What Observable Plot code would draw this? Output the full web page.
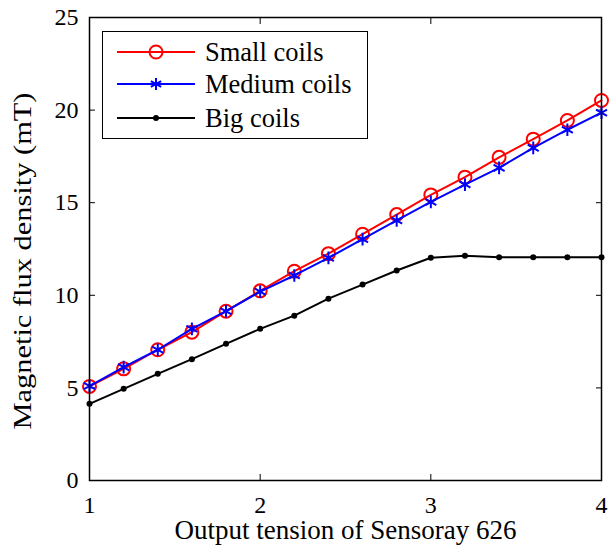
<!DOCTYPE html>
<html>
<head>
<meta charset="utf-8">
<script src="https://cdn.jsdelivr.net/npm/d3@7"></script>
<script src="https://cdn.jsdelivr.net/npm/@observablehq/plot@0.6"></script>
<style>
  html, body { margin: 0; padding: 0; background: #fff; }
  #wrap { position: relative; width: 609px; height: 549px; font-family: "Liberation Serif", "Times New Roman", serif; }
  #legend { position: absolute; left: 102px; top: 31px; width: 264px; height: 106px; border: 1.5px solid #000; background: #fff; }
  #legend svg { position: absolute; left: 0; top: 0; }
  #ylab { position: absolute; left: 0; top: 0; pointer-events: none; }
</style>
</head>
<body>
<div id="wrap"></div>
<script>
const xs = [1, 1.2, 1.4, 1.6, 1.8, 2.0, 2.2, 2.4, 2.6, 2.8, 3.0, 3.2, 3.4, 3.6, 3.8, 4.0];
const small = [5.08, 6.03, 7.06, 8.01, 9.14, 10.24, 11.3, 12.25, 13.3, 14.36, 15.42, 16.38, 17.45, 18.43, 19.44, 20.52];
const medium = [5.1, 6.12, 7.06, 8.19, 9.14, 10.2, 11.07, 12.02, 13.03, 14.04, 15.04, 15.98, 16.88, 17.96, 18.94, 19.86];
const big = [4.14, 4.95, 5.76, 6.55, 7.38, 8.19, 8.9, 9.82, 10.58, 11.34, 12.03, 12.13, 12.05, 12.05, 12.05, 12.05];
const seriesNames = ["Small coils", "Medium coils", "Big coils"];
const seriesColors = ["#ff0000", "#0000ff", "#000000"];
const xTicks = [1, 2, 3, 4];
const yTicks = [0, 5, 10, 15, 20, 25];
const xLabel = "Output tension of Sensoray 626";
const yLabel = "Magnetic flux density (mT)";

const rows = (ys) => xs.map((x, i) => ({x, y: ys[i]}));
const S = rows(small), M = rows(medium), B = rows(big);

const font = "Liberation Serif, Times New Roman, serif";

const chart = Plot.plot({
  width: 609,
  height: 549,
  marginLeft: 89,
  marginRight: 8,
  marginTop: 17,
  marginBottom: 69,
  style: {fontFamily: font, fontSize: "24px", color: "#000", background: "#fff"},
  x: {domain: [1, 4], label: null},
  y: {domain: [0, 25], label: null},
  marks: [
    Plot.axisX({ticks: xTicks, tickSize: 0, tickPadding: 15, tickFormat: d3.format("d"), fontSize: 24, label: null}),
    Plot.axisX({ticks: xTicks, tickSize: -6, text: null, label: null}),
    Plot.axisX({anchor: "top", ticks: xTicks, tickSize: -6, text: null, label: null}),
    Plot.axisY({ticks: yTicks, tickSize: 0, tickPadding: 11, fontSize: 24, label: null}),
    Plot.axisY({ticks: yTicks, tickSize: -6, text: null, label: null}),
    Plot.axisY({anchor: "right", ticks: yTicks, tickSize: -6, text: null, label: null}),
    Plot.lineY(S, {x: "x", y: "y", stroke: seriesColors[0], strokeWidth: 2}),
    Plot.dot(S, {x: "x", y: "y", stroke: seriesColors[0], r: 6.5, strokeWidth: 2, fill: "none"}),
    Plot.lineY(M, {x: "x", y: "y", stroke: seriesColors[1], strokeWidth: 2}),
    Plot.dot(M, {x: "x", y: "y", stroke: seriesColors[1], symbol: "asterisk", r: 6, strokeWidth: 2}),
    Plot.lineY(B, {x: "x", y: "y", stroke: seriesColors[2], strokeWidth: 2}),
    Plot.dot(B, {x: "x", y: "y", fill: seriesColors[2], r: 3}),
    Plot.frame({stroke: "#000", strokeWidth: 1.5}),
    Plot.text([xLabel], {frameAnchor: "bottom", lineAnchor: "middle", dy: 50, text: d => d, fontSize: 27, fill: "#000"})
  ]
});

const wrap = document.getElementById("wrap");
wrap.appendChild(chart);

const ns = "http://www.w3.org/2000/svg";

// Y axis label (overlay)
const ysvg = document.createElementNS(ns, "svg");
ysvg.id = "ylab";
ysvg.setAttribute("width", 80);
ysvg.setAttribute("height", 549);
const yt = document.createElementNS(ns, "text");
yt.setAttribute("transform", "translate(31,261) rotate(-90)");
yt.setAttribute("text-anchor", "middle");
yt.setAttribute("font-family", font);
yt.setAttribute("font-size", 25);
yt.setAttribute("textLength", 337);
yt.setAttribute("lengthAdjust", "spacingAndGlyphs");
yt.textContent = yLabel;
ysvg.appendChild(yt);
wrap.appendChild(ysvg);

// Legend
const legend = document.createElement("div");
legend.id = "legend";
const lsvg = document.createElementNS(ns, "svg");
lsvg.setAttribute("width", 264);
lsvg.setAttribute("height", 106);
const rowY = [20, 52, 86];
const symbols = ["circle", "asterisk", "dot"];
seriesNames.forEach((name, i) => {
  const y = rowY[i];
  const line = document.createElementNS(ns, "line");
  line.setAttribute("x1", 14); line.setAttribute("x2", 92);
  line.setAttribute("y1", y); line.setAttribute("y2", y);
  line.setAttribute("stroke", seriesColors[i]); line.setAttribute("stroke-width", 2);
  lsvg.appendChild(line);
  const cx = 53;
  if (symbols[i] === "circle") {
    const c = document.createElementNS(ns, "circle");
    c.setAttribute("cx", cx); c.setAttribute("cy", y); c.setAttribute("r", 6.5);
    c.setAttribute("fill", "none"); c.setAttribute("stroke", seriesColors[i]); c.setAttribute("stroke-width", 2);
    lsvg.appendChild(c);
  } else if (symbols[i] === "asterisk") {
    const p = document.createElementNS(ns, "path");
    p.setAttribute("transform", `translate(${cx},${y})`);
    p.setAttribute("d", d3.symbol(d3.symbolAsterisk, 100)());
    p.setAttribute("stroke", seriesColors[i]); p.setAttribute("stroke-width", 2); p.setAttribute("fill", "none");
    lsvg.appendChild(p);
  } else {
    const c = document.createElementNS(ns, "circle");
    c.setAttribute("cx", cx); c.setAttribute("cy", y); c.setAttribute("r", 3);
    c.setAttribute("fill", seriesColors[i]);
    lsvg.appendChild(c);
  }
  const t = document.createElementNS(ns, "text");
  t.setAttribute("x", 102); t.setAttribute("y", y);
  t.setAttribute("dy", "0.35em");
  t.setAttribute("font-family", font);
  t.setAttribute("font-size", 26.5);
  t.textContent = name;
  lsvg.appendChild(t);
});
legend.appendChild(lsvg);
wrap.appendChild(legend);
</script>
</body>
</html>
